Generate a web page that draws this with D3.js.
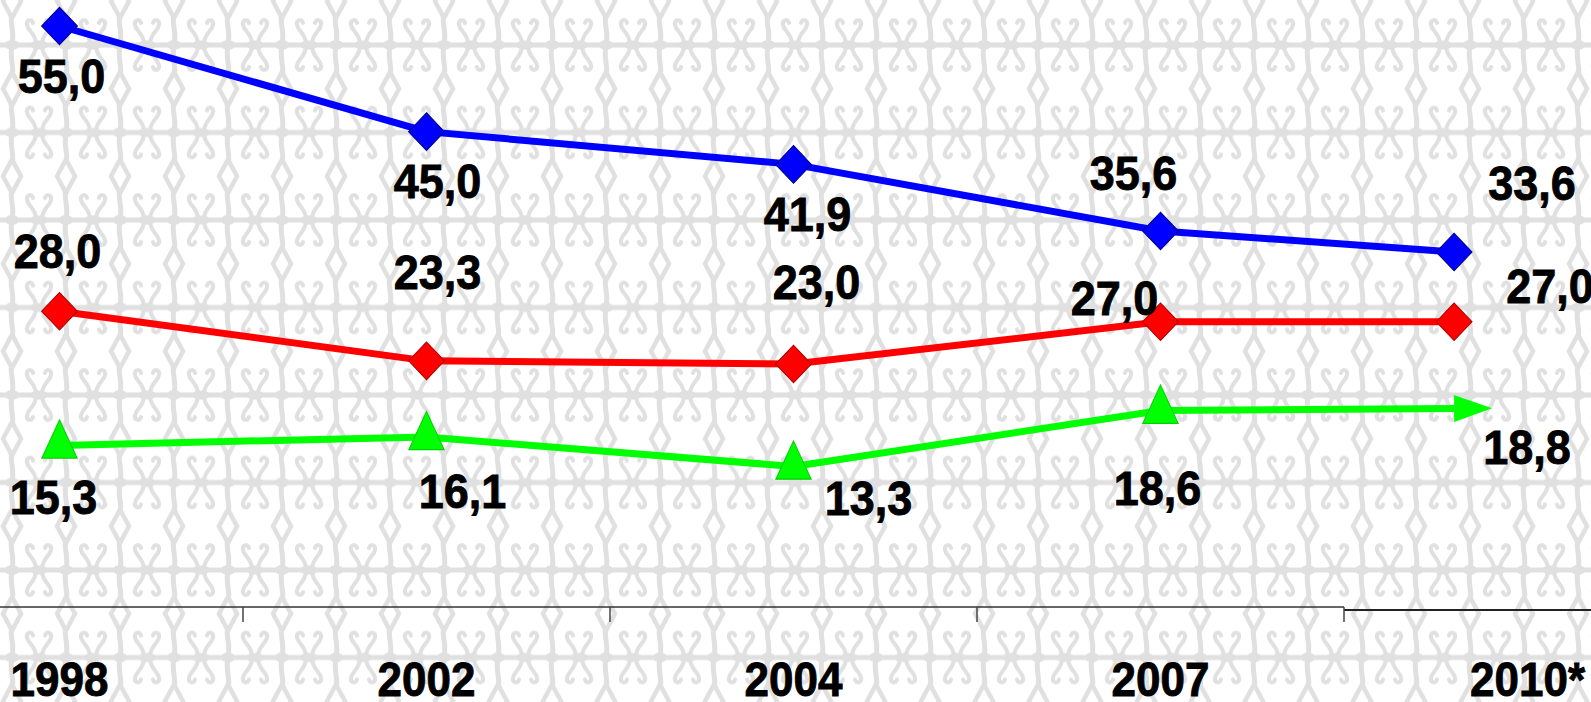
<!DOCTYPE html>
<html>
<head>
<meta charset="utf-8">
<script src="https://cdn.jsdelivr.net/npm/d3@7"></script>
<style>
  body { margin: 0; background: #fff; }
  svg { display: block; }
  text { font-family: "Liberation Sans", Arial, sans-serif; font-weight: bold; fill: #000; }
</style>
</head>
<body>
<div id="chart"></div>
<script>
// data
var categories = ["1998", "2002", "2004", "2007", "2010*"];
var blueValues = [55.0, 45.0, 41.9, 35.6, 33.6];
var redValues = [28.0, 23.3, 23.0, 27.0, 27.0];
var greenValues = [15.3, 16.1, 13.3, 18.6, 18.8];

// where each value label sits relative to its point (px)
var blueLabelOffsets = [[2, 50], [11, 49], [14, 49], [-27, -58], [78, -69]];
var redLabelOffsets = [[-2, -61], [11, -89], [23, -82], [-46, -24], [96, -36]];
var greenLabelOffsets = [[-6, 51], [36, 54], [75, 31], [-3, 77], [73, 38]];

var width = 1591, height = 702;
var axisY = 607;
var grey = "#e0e0e0";

var svg = d3.select("#chart").append("svg")
    .attr("width", width)
    .attr("height", height);

// ornamental background
var defs = svg.append("defs");
var tw = 54, th = 87.5;
var pat = defs.append("pattern")
    .attr("id", "bg")
    .attr("patternUnits", "userSpaceOnUse")
    .attr("x", 12).attr("y", 45)
    .attr("width", tw).attr("height", th);
pat.append("rect").attr("width", tw).attr("height", th).attr("fill", "#fff");
var orn = pat.append("g").attr("fill", "none").attr("stroke", grey).attr("stroke-width", 5)
    .attr("stroke-linecap", "round");

// horizontal bands with blobs
[0, th].forEach(function(by) {
  orn.append("rect").attr("x", 0).attr("y", by - 2.5).attr("width", tw).attr("height", 5)
      .attr("fill", grey).attr("stroke", "none");
  [0, tw].forEach(function(cx) {
    orn.append("ellipse").attr("cx", cx).attr("cy", by).attr("rx", 7).attr("ry", 5)
        .attr("fill", grey).attr("stroke", "none");
  });
  orn.append("ellipse").attr("cx", tw / 2).attr("cy", by).attr("rx", 9).attr("ry", 4.5)
      .attr("fill", grey).attr("stroke", "none");
});
// columns with diamond in the middle
[0, tw].forEach(function(cx) {
  orn.append("path")
      .attr("d", "M" + cx + ",0C" + (cx - 3) + ",15 " + (cx + 3) + ",22 " + cx + ",30M" +
                 cx + "," + (th - 30) + "C" + (cx - 3) + "," + (th - 22) + " " + (cx + 3) + "," + (th - 15) + " " + cx + "," + th)
      .attr("stroke-width", 5);
  orn.append("path")
      .attr("d", "M" + cx + ",27L" + (cx + 9) + "," + (th / 2) + "L" + cx + "," + (th - 27) + "L" + (cx - 9) + "," + (th / 2) + "Z")
      .attr("fill", "#fff").attr("stroke-width", 4.5);
});
// scrolls hanging from the bands
var curls = "M24,2C23,12 16,14 15,20C14,25 20,27 21,22" +
            "M30,2C31,12 38,14 39,20C40,25 34,27 33,22";
orn.append("path").attr("d", curls).attr("stroke-width", 4);
orn.append("path").attr("d", curls).attr("stroke-width", 4)
    .attr("transform", "translate(0," + th + ") scale(1,-1)");

svg.append("rect").attr("width", width).attr("height", height).attr("fill", "url(#bg)");

// scales
var x = d3.scaleBand()
    .domain(categories)
    .range([-124, 1711]);

// projected year (marked with *) is drawn early in its band
function px(c) {
  return x(c) + x.bandwidth() * (c.indexOf("*") >= 0 ? 0.3 : 0.5);
}

var y = d3.scaleLinear()
    .domain([0, 55])
    .range([axisY, 26]);

var fmt = d3.formatLocale({decimal: ",", thousands: " ", grouping: [3], currency: ["", ""]}).format(".1f");

// axis
var axisG = svg.append("g")
    .attr("transform", "translate(0," + axisY + ")")
    .call(d3.axisBottom(x).tickSize(0))
    .call(function(g) { g.select(".domain").remove(); });
axisG.selectAll("text")
    .attr("y", null)
    .attr("dy", "0.36em")
    .attr("transform", "translate(0,72) scale(1,1.1)")
    .style("font-size", "44px")
    .style("font-family", "'Liberation Sans', Arial, sans-serif")
    .style("font-weight", "bold")
    .attr("fill", "#000")
    .attr("stroke", "#000")
    .attr("stroke-width", 0.8);

var last = categories[categories.length - 1];
svg.append("line")
    .attr("x1", 0).attr("x2", x(last))
    .attr("y1", axisY).attr("y2", axisY)
    .attr("stroke", "#333").attr("stroke-width", 1.5);
svg.append("line")
    .attr("x1", x(last)).attr("x2", width)
    .attr("y1", axisY + 3).attr("y2", axisY + 3)
    .attr("stroke", "#222").attr("stroke-width", 1.8);
svg.append("g").selectAll("line")
    .data(categories.slice(1))
    .enter().append("line")
      .attr("x1", function(d) { return x(d); })
      .attr("x2", function(d) { return x(d); })
      .attr("y1", axisY).attr("y2", axisY + 15)
      .attr("stroke", "#444").attr("stroke-width", 1.5);

var series = [
  {name: "blue", values: blueValues, color: "#0000ff", edge: "#00008a", shape: "diamond", offsets: blueLabelOffsets},
  {name: "red", values: redValues, color: "#ff0000", edge: "#b00000", shape: "diamond", offsets: redLabelOffsets},
  {name: "green", values: greenValues, color: "#00ff00", edge: "#00d000", shape: "triangle", offsets: greenLabelOffsets, arrow: true}
];

defs.append("marker")
    .attr("id", "arrow")
    .attr("markerUnits", "userSpaceOnUse")
    .attr("orient", "auto")
    .attr("refX", 0).attr("refY", 0)
    .attr("viewBox", "-1 -15 42 30")
    .attr("markerWidth", 42).attr("markerHeight", 30)
  .append("path")
    .attr("d", "M0,-13.5L38,0L0,13.5Z")
    .attr("fill", "#00ff00");

var line = d3.line()
    .x(function(d) { return px(d.cat); })
    .y(function(d) { return y(d.value); });

series.forEach(function(s) {
  var pts = categories.map(function(c, i) { return {cat: c, value: s.values[i], off: s.offsets[i]}; });
  var path = svg.append("path")
      .datum(pts)
      .attr("fill", "none")
      .attr("stroke", s.color)
      .attr("stroke-width", 7)
      .attr("stroke-linejoin", "round")
      .attr("d", line);
  if (s.arrow) path.attr("marker-end", "url(#arrow)");
  s.pts = pts;
});

var diamond = d3.symbol().type(d3.symbolSquare).size(640);
var triangle = d3.symbol().type(d3.symbolTriangle).size(540);

series.forEach(function(s) {
  var marks = s.arrow ? s.pts.slice(0, -1) : s.pts;
  svg.append("g").selectAll("path")
      .data(marks)
      .enter().append("path")
        .attr("d", s.shape === "diamond" ? diamond : triangle)
        .attr("transform", function(d) {
          return "translate(" + px(d.cat) + "," + y(d.value) + ")" +
            (s.shape === "diamond" ? " scale(1,1.05) rotate(45)" : " scale(1,1.25)");
        })
        .attr("fill", s.color)
        .attr("stroke", s.edge)
        .attr("stroke-width", 1);
});

series.forEach(function(s) {
  svg.append("g").selectAll("text")
      .data(s.pts)
      .enter().append("text")
        .attr("text-anchor", "middle")
        .attr("dy", "0.36em")
        .attr("transform", function(d) {
          return "translate(" + (px(d.cat) + d.off[0]) + "," + (y(d.value) + d.off[1]) + ") scale(1,1.07)";
        })
        .attr("stroke", "#000")
        .attr("stroke-width", 0.8)
        .style("font-size", "45px")
        .text(function(d) { return fmt(d.value); });
});
</script>
</body>
</html>
